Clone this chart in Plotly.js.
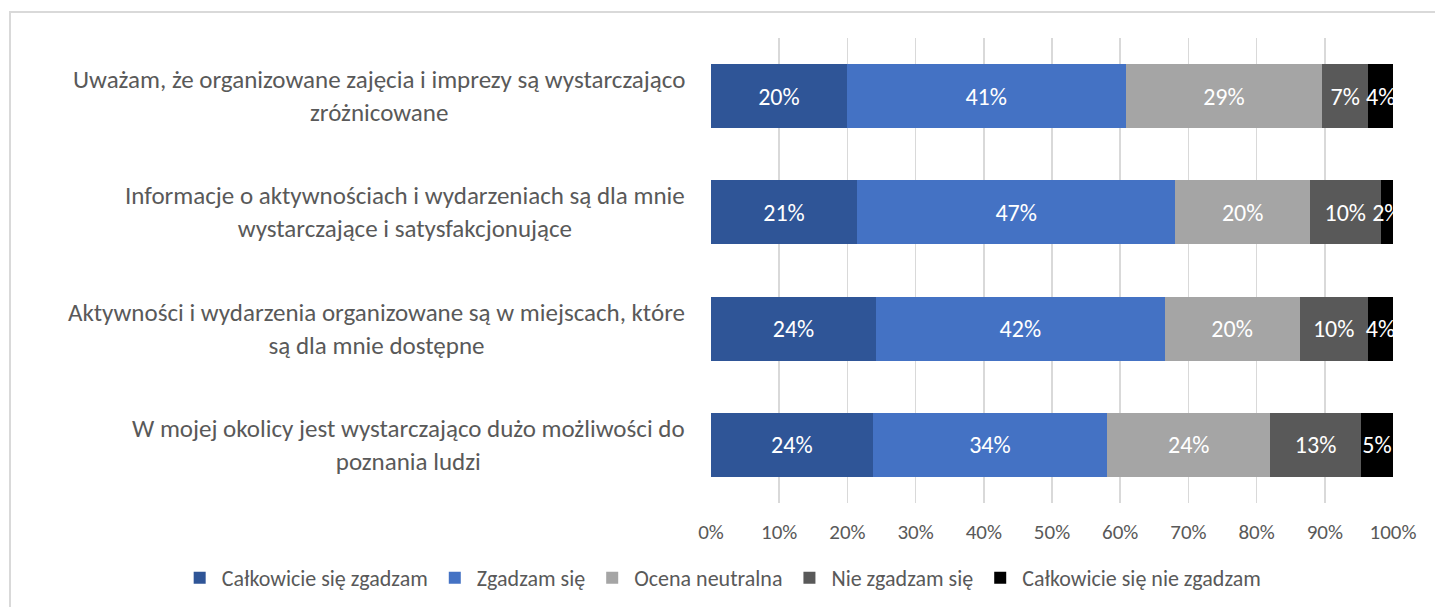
<!DOCTYPE html>
<html>
<head>
<meta charset="utf-8">
<script src="https://cdn.plot.ly/plotly-3.0.1.min.js"></script>
<style>
  html, body { margin: 0; padding: 0; background: #ffffff; }
  #wrap { position: relative; width: 1435px; height: 607px; overflow: hidden; }
  #chart { position: absolute; left: 0; top: 0; width: 1435px; height: 607px; }
  #frame { position: absolute; left: 9px; top: 11px; width: 1500px; height: 700px;
           border-left: 2px solid #d9d9d9; border-top: 2px solid #d9d9d9; pointer-events: none; }
</style>
</head>
<body>
<div id="wrap">
  <div id="chart"></div>
  <div id="frame"></div>
</div>
<script>
// Categories (top to bottom as in the chart)
const categories = [
  "Uważam, że organizowane zajęcia i imprezy są wystarczająco<br>zróżnicowane",
  "Informacje o aktywnościach i wydarzeniach są dla mnie<br>wystarczające i satysfakcjonujące",
  "Aktywności i wydarzenia organizowane są w miejscach, które<br>są dla mnie dostępne",
  "W mojej okolicy jest wystarczająco dużo możliwości do<br>poznania ludzi"
];

const seriesNames = [
  "Całkowicie się zgadzam",
  "Zgadzam się",
  "Ocena neutralna",
  "Nie zgadzam się",
  "Całkowicie się nie zgadzam"
];

// Percent values per series, in category order
const calkowicieZgadzam    = [19.9, 21.4, 24.2, 23.7];
const zgadzam              = [40.9, 46.7, 42.3, 34.4];
const neutralna            = [28.8, 19.7, 19.8, 23.9];
const nieZgadzam           = [6.8, 10.4, 10.0, 13.3];
const calkowicieNieZgadzam = [3.6, 1.8, 3.7, 4.7];

const xTickValues = [0, 10, 20, 30, 40, 50, 60, 70, 80, 90, 100];
const xTickLabels = ["0%", "10%", "20%", "30%", "40%", "50%", "60%", "70%", "80%", "90%", "100%"];

const colors = ["#2f5597", "#4472c4", "#a5a5a5", "#595959", "#000000"];
const seriesValues = [calkowicieZgadzam, zgadzam, neutralna, nieZgadzam, calkowicieNieZgadzam];

const FONT = "Carlito, Lato, 'Liberation Sans', sans-serif";

const traces = seriesValues.map((vals, i) => ({
  type: "bar",
  orientation: "h",
  name: seriesNames[i],
  x: vals,
  y: categories,
  marker: { color: colors[i], line: { width: 0 } },
  width: 0.55,
  texttemplate: "%{x:.0f}%",
  textposition: "inside",
  insidetextanchor: "middle",
  constraintext: "none",
  textangle: 0,
  textfont: { family: FONT, size: 24, color: "#ffffff" },
  hoverinfo: "name+x"
}));

const annotations = categories.map(c => ({
  xref: "paper", yref: "y",
  x: -0.035, y: c,
  xanchor: "right", yanchor: "middle",
  align: "center",
  text: c,
  showarrow: false,
  font: { family: FONT, size: 25, color: "#595959" }
}));

const layout = {
  width: 1435, height: 607,
  margin: { l: 711, r: 42, t: 38, b: 104, autoexpand: false },
  paper_bgcolor: "#ffffff",
  plot_bgcolor: "#ffffff",
  barmode: "stack",
  bargap: 0.45,
  showlegend: true,
  legend: {
    orientation: "h",
    xref: "paper", yref: "paper",
    x: -0.782, y: -0.161,
    xanchor: "left", yanchor: "middle",
    font: { family: FONT, size: 22, color: "#595959" },
    itemwidth: 34,
    traceorder: "normal",
    itemclick: false
  },
  xaxis: {
    range: [0, 100],
    tickmode: "array",
    tickvals: xTickValues,
    ticktext: xTickLabels,
    showgrid: true,
    gridcolor: "#d9d9d9",
    gridwidth: 1.5,
    zeroline: false,
    showline: false,
    ticks: "",
    tickfont: { family: FONT, size: 21, color: "#595959" },
    ticklabelstandoff: 14
  },
  yaxis: {
    type: "category",
    categoryorder: "array",
    categoryarray: categories,
    autorange: "reversed",
    showticklabels: false,
    showgrid: false,
    zeroline: false,
    showline: false,
    ticks: ""
  },
  annotations: annotations
};

Plotly.newPlot("chart", traces, layout, { displayModeBar: false, staticPlot: true });
</script>
</body>
</html>
